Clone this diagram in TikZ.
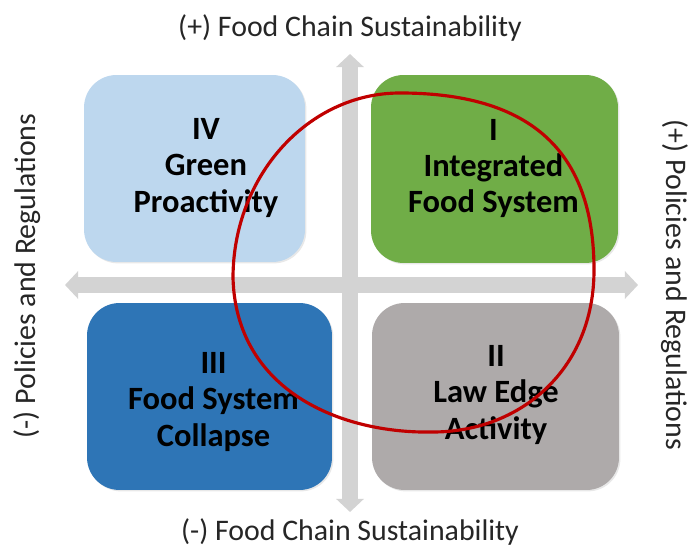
\documentclass[tikz,border=0pt]{standalone}
\usepackage{fontspec}
\setmainfont{Carlito}
\usetikzlibrary{arrows.meta,shadows}

\definecolor{paleblue}{RGB}{189,215,238}
\definecolor{leafgreen}{RGB}{112,173,71}
\definecolor{deepblue}{RGB}{46,117,182}
\definecolor{stonegray}{RGB}{174,170,170}
\definecolor{axisgray}{RGB}{211,211,211}
\definecolor{ringred}{RGB}{192,0,0}

\begin{document}
\begin{tikzpicture}[x=0.02cm, y=-0.02cm,
		quad/.style={rectangle, rounded corners=0.65cm, draw=none, inner sep=0pt,
			drop shadow={opacity=0.18, shadow xshift=0.8pt, shadow yshift=-0.8pt}},
		quadtext/.style={align=center, font=\fontsize{18.5}{20.7}\selectfont\bfseries, text=black},
		axislabel/.style={font=\fontsize{17}{20}\selectfont, text=black!85},
		axis/.style={draw=axisgray, line width=8.6pt, {Triangle[width=15.5pt,length=7.5pt]}-{Triangle[width=15.5pt,length=7.5pt]}}]
				\useasboundingbox (0,0) rectangle (688,546);
				% quadrant boxes
				\node[quad, fill=paleblue, minimum width=4.42cm, minimum height=3.74cm] (IV)at(194.5, 168.5) {};
				\node[quad, fill=leafgreen, minimum width=4.94cm, minimum height=3.76cm] (I)at(494.5, 169) {};
				\node[quad, fill=deepblue, minimum width=4.9cm, minimum height=3.74cm] (III)at(209.5, 396.5) {};
				\node[quad, fill=stonegray, minimum width=4.94cm, minimum height=3.74cm] (II)at(495.5, 396.5) {};
				% axes
				\coordinate (N)at(350, 54);
				\coordinate (S)at(350, 512);
				\coordinate (W)at(65, 285);
				\coordinate (E)at(638, 285);
				\draw[axis] (S) -- (N);
				\draw[axis] (W) -- (E);
				% quadrant texts
				\node[quadtext] (tIV)at(206, 168) {IV\\Green\\Proactivity};
				\node[quadtext] (tI)at(493.5, 168.5) {I\\Integrated\\Food System};
				\node[quadtext] (tIII)at(213.5, 402) {III\\Food System\\Collapse};
				\node[quadtext] (tII)at(496, 395) {II\\Law Edge\\Activity};
				% axis labels
				\node[axislabel] (top)at(350, 28) {(+) Food Chain Sustainability};
				\node[axislabel] (bottom)at(350, 532) {(-) Food Chain Sustainability};
				\node[axislabel, rotate=90] (left)at(27, 276) {(-) Policies and Regulations};
				\node[axislabel, rotate=-90] (right)at(675, 285) {(+) Policies and Regulations};
				% red ring
				\draw[ringred, line width=1.8pt] (233,278) .. controls (233,176) and (308,93) .. (400,93)
					.. controls (540,93) and (594,160) .. (594,270)
					.. controls (594,370) and (520,432) .. (433,432)
					.. controls (340,434) and (236,390) .. cycle;
			\end{tikzpicture}
\end{document}
